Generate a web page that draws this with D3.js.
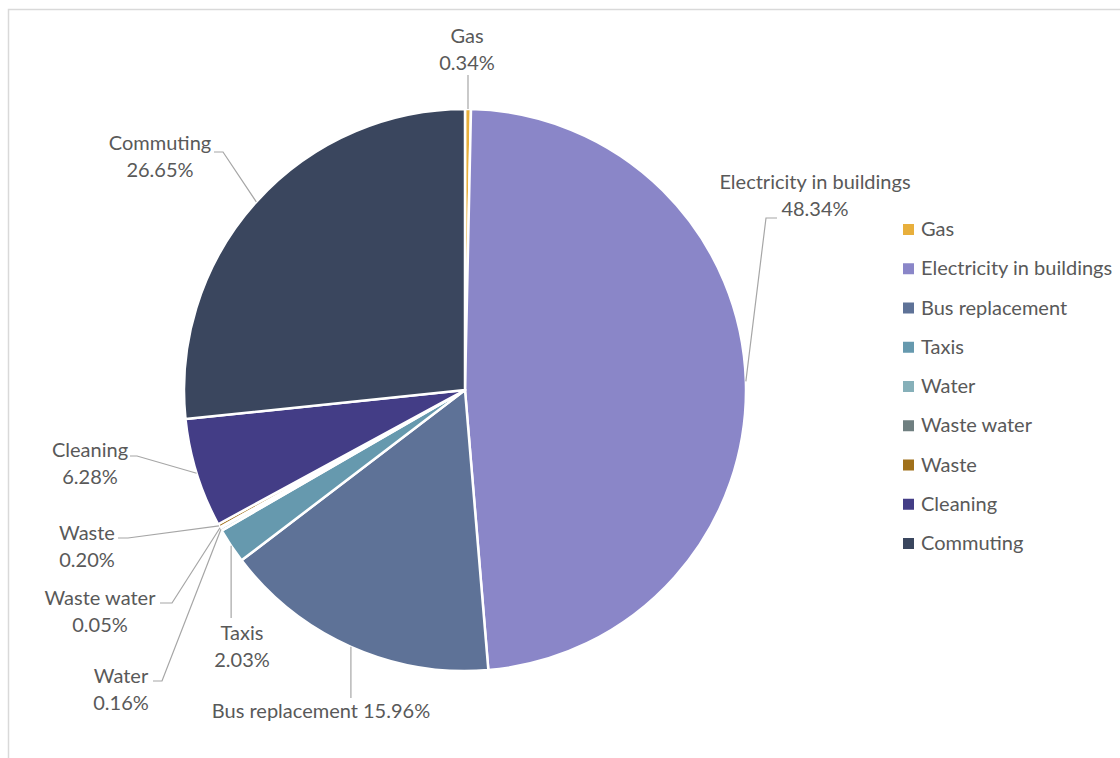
<!DOCTYPE html>
<html><head><meta charset="utf-8">
<script src="https://cdn.jsdelivr.net/npm/d3@7"></script>
<style>body{margin:0;background:#fff}svg{display:block}</style>
</head><body>
<svg id="c" width="1120" height="758"></svg>
<script>
const categories = ["Gas","Electricity in buildings","Bus replacement","Taxis","Water","Waste water","Waste","Cleaning","Commuting"];
const values = [0.34,48.34,15.96,2.03,0.16,0.05,0.20,6.28,26.65];
const colors = ["#E8AF3C","#8A86C8","#5E7297","#6699AE","#86B0B9","#6F7F80","#A0701A","#433D86","#3A465E"];

// label layout (text block anchor x, first baseline y, leader elbow points)
const labelLayout = {
  "Gas": {x:467, y:43, single:false, leader:[[null,75]]},
  "Electricity in buildings": {x:815, y:189, single:false, leader:[[766,218],[777,218]]},
  "Bus replacement": {x:321, y:718, single:true, leader:[[null,698]]},
  "Taxis": {x:242, y:640, single:false, leader:[[null,618]]},
  "Water": {x:121, y:683, single:false, leader:[[162,681],[153,681]]},
  "Waste water": {x:100, y:605, single:false, leader:[[172,603],[160,603]]},
  "Waste": {x:87, y:540, single:false, leader:[[128,538],[118,538]]},
  "Cleaning": {x:90, y:457, single:false, leader:[[137,456],[130,456]]},
  "Commuting": {x:160, y:150, single:false, leader:[[223,152],[214,152]]}
};

const svg = d3.select("#c");
const font = "Lato, 'Open Sans', sans-serif";
const textColor = "#595959";
const fs = 20;

svg.append("rect").attr("x",8.5).attr("y",9.5).attr("width",1200).attr("height",800)
  .attr("fill","none").attr("stroke","#D9D9D9").attr("stroke-width",1.5);

const cx = 465, cy = 390, r = 281;
const g = svg.append("g").attr("transform",`translate(${cx},${cy})`);
const data = categories.map((c,i)=>({name:c, value:values[i], color:colors[i]}));
const pie = d3.pie().sort(null).value(d=>d.value).startAngle(0).endAngle(2*Math.PI);
const arcs = pie(data);
const arc = d3.arc().innerRadius(0).outerRadius(r);

g.selectAll("path.slice").data(arcs).join("path").attr("class","slice")
  .attr("d",arc).attr("fill",d=>d.data.color)
  .attr("stroke","#fff").attr("stroke-width",2.5).attr("stroke-linejoin","round");

const fmt = v => v.toFixed(2) + "%";

arcs.forEach(a=>{
  const L = labelLayout[a.data.name];
  const mid = (a.startAngle + a.endAngle)/2;
  const p0 = [cx + r*Math.sin(mid), cy - r*Math.cos(mid)];
  const pts = [p0];
  L.leader.forEach(p=>{
    const prev = pts[pts.length-1];
    pts.push([p[0]===null ? prev[0] : p[0], p[1]]);
  });
  svg.append("path").attr("d", d3.line()(pts)).attr("fill","none")
    .attr("stroke","#A6A6A6").attr("stroke-width",1.2);
  const t = svg.append("text").attr("font-family",font).attr("font-size",fs)
    .attr("fill",textColor).attr("text-anchor","middle");
  if (L.single) {
    t.append("tspan").attr("x",L.x).attr("y",L.y).text(a.data.name + " " + fmt(a.data.value));
  } else {
    t.append("tspan").attr("x",L.x).attr("y",L.y).text(a.data.name);
    t.append("tspan").attr("x",L.x).attr("y",L.y+27).text(fmt(a.data.value));
  }
});

// legend
const lg = svg.append("g");
data.forEach((d,i)=>{
  const y = 224 + i*39.25;
  lg.append("rect").attr("x",903).attr("y",y).attr("width",11).attr("height",11).attr("fill",d.color);
  lg.append("text").attr("x",921).attr("y",y+12).attr("font-family",font).attr("font-size",fs)
    .attr("fill",textColor).text(d.name);
});
</script>
</body></html>
